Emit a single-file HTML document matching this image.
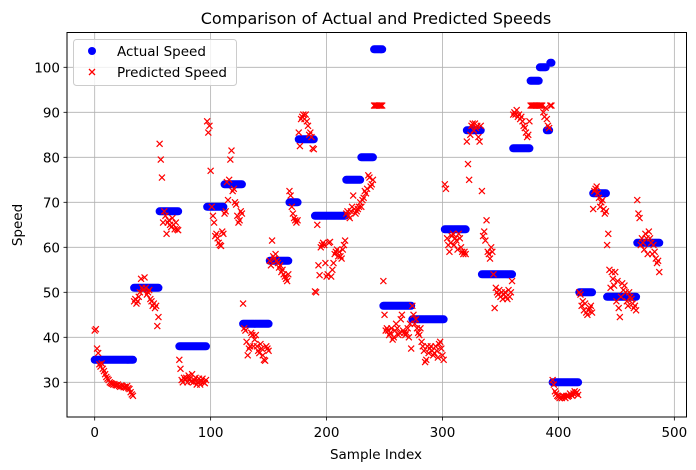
<!DOCTYPE html>
<html><head><meta charset="utf-8"><style>
html,body{margin:0;padding:0;background:#fff;}
svg{display:block;font-family:"DejaVu Sans","Liberation Sans",sans-serif;}
</style></head><body>
<svg id="chart" width="696" height="470" viewBox="0 0 696 470" xmlns="http://www.w3.org/2000/svg">
<rect width="696" height="470" fill="#fff"/>
<text x="376" y="24" text-anchor="middle" font-size="16" fill="#000">Comparison of Actual and Predicted Speeds</text>
<g id="grid"></g>
<g id="marks"></g>
<rect x="67" y="32.5" width="619.5" height="384.5" fill="none" stroke="#000" stroke-width="1"/>
<g id="ticks"></g>
<text x="376" y="459" text-anchor="middle" font-size="13.5">Sample Index</text>
<text x="22" y="225" text-anchor="middle" font-size="13.5" transform="rotate(-90 22 225)">Speed</text>
<g>
<rect x="73.5" y="39.5" width="163" height="46" rx="3" fill="#fff" fill-opacity="0.8" stroke="#ccc"/>
<circle cx="92" cy="51" r="4" fill="#0000ff"/>
<text x="117" y="56" font-size="13.5">Actual Speed</text>
<path d="M89 69 L95 75 M95 69 L89 75" stroke="#ff0000" stroke-width="1.3"/>
<text x="117" y="77" font-size="13.5">Predicted Speed</text>
</g>
</svg>
<script>
const xTicks = [0,100,200,300,400,500];
const yTicks = [30,40,50,60,70,80,90,100];
const segValues = [35,51,68,38,69,74,43,57,70,84,67,75,80,104,47,44,64,86,54,82,97,100,86,101,30,50,72,49,61];
const predChunks = [
[41.5,41.8,37.5,36.5,34,33.5,34.2,33,32.5,31.8,31.2,30.8,30.5,30,29.8,29.7,29.5,29.6,29.4,29.3,29.5,29.2,29,29.3,29.1,28.9,29,28.8,29.2,28.7,28.5,27.8,27.3,27],
[48,48.5,47.5,48,49,50,53,51,50.5,53.3,51,49.5,50,50.5,48.5,48,47,47.5,46.5,47,42.5,44.5],
[83,79.5,75.5,65.5,68,67,63,65.5,66,65,64.5,66.5,65,64,65.5,64,63.8],
[35,33,30.5,30,31,30.5,31,30,31.5,30.8,30.2,31.8,30,30.5,31,29.5,30,30.8,29.5,30.2,30.8,30,29.8,30.5],
[88,85.5,87,77,69,67,65.5,62.5,63,62,61,60.5,60.3,63.5,63],
[67.5,68,74.5,70.5,75,79.5,81.5,72.5,73,70,69.5,67,65.5,66,68,67.5],
[47.5,42,41.5,39,36,37.5,38,41,40.5,38,39.5,40.5,38,37,36.5,38.5,37.5,36,35,34.8,38,37.5,37],
[57,56,61.5,58,57.5,58.5,57,56.5,55.5,56,54.5,55,54,53.5,53,52.5,54],
[72.5,71.5,69,67.5,66.5,66,65.5,66],
[85.5,82.5,88.5,89,89.5,88.5,89.5,88,87,85,85.5,84.5,82,81.8],
[50.2,50,65,56,53.8,60,60.5,61,60.5,56.5,53.5,54,61,61.2,53.5,55,56.5,58.5,59,59.5,58,59,58,57.5,59.5,60.5,61.5],
[67.5,68,67,66.5,68,69,71.5,68.5,67.5,68,68.5,69,70],
[69,70.5,71,72.5,72,73,76,75.5,73.5,74,75],
[91.5,91.5,91.5,91.5,91.5,91.5,91.5,91.5],
[52.5,45,41.5,42,41.5,40.5,41,42,39.5,40,41.5,43,42,40.5,41,44,45,41.5,41,40.5,41,42,40,43,37.5],
[47,45,43,44,42,41,40.5,42,39,38,37,34.5,35,38,36.5,37.5,38,37,36,36.5,38,37,35.5,38.5,39,37.5,36,35],
[74,73,62,60.5,59,61,62.5,63,60.5,62,61.5,59.5,63,62,60,59,58.5,59,58.5],
[83.5,78.5,75,85,87,87.5,86,87.5,86.5,87,84.5,83.5,87],
[72.5,62.5,63.5,61.5,66,59,58.5,57.5,60,59,54,46.5,51,50,49.5,50.5,49,50,48.5,49.5,50,49,48.5,50.5,49,50,52.5],
[89.5,90,89.5,90.5,89,89.5,88.5,89,88,87,86.5,85.5,84.5,85,88],
[91.5,91.5,91.5,91.5,91.5,91.5,91.5,91.5],
[91.5,91.5,91.5,90,89,91],
[88.5,87,86.5],
[91.5,91.5],
[30.5,29.5,28,27.5,27,26.8,26.5,26.8,26.5,27,26.8,26.5,27,26.8,27,27.5,27.2,27,27.5,28,27.5,27.8,27.2],
[50,49.5,47,48,46,47.5,45.5,45,46,46.5,47,45.5],
[68.5,72.5,73,73.5,72,71,69,70,70.5,68.5,67.5,68],
[60.5,63,55,51,54.5,53,51.5,54.5,48,52.5,46.5,44.5,49,52,50.5,51.5,50,48,47,50,49,48.5,47.5,46.5,47,46],
[70.5,67.5,66.5,60.5,62,61,59.5,63,62,58.5,63.5,62,61,58.5,60.5,59,57.5,56.5,57,54.5]
];
const NS = "http://www.w3.org/2000/svg";
function xs(v){ return 94.7 + v * 1.1593; }
function ys(v){ return 382.3 - (v - 30) * 4.5; }
function mk(tag, attrs, parent){ const e = document.createElementNS(NS, tag); for (const k in attrs) e.setAttribute(k, attrs[k]); parent.appendChild(e); return e; }
const grid = document.getElementById('grid'), ticks = document.getElementById('ticks'), marks = document.getElementById('marks');
xTicks.forEach(t => {
  const x = xs(t);
  const g = mk('line', {x1:x, x2:x, y1:32.5, y2:417, stroke:'#b0b0b0', 'stroke-width':0.8}, grid);
  
  
  const tk = mk('line', {x1:x, x2:x, y1:417, y2:420.5, stroke:'#000', 'stroke-width':0.8}, ticks);
  
  
  const lb = mk('text', {x:x, y:437, 'text-anchor':'middle', 'font-size':13.5}, ticks);
  lb.textContent = t;
  
  
});
yTicks.forEach(t => {
  const y = ys(t);
  const g = mk('line', {x1:67, x2:686.5, y1:y, y2:y, stroke:'#b0b0b0', 'stroke-width':0.8}, grid);
  
  
  const tk = mk('line', {x1:63.5, x2:67, y1:y, y2:y, stroke:'#000', 'stroke-width':0.8}, ticks);
  
  
  const lb = mk('text', {x:60, y:y + 5, 'text-anchor':'end', 'font-size':13.5}, ticks);
  lb.textContent = t;
  
  
});
const actualG = mk('g', {}, marks);


const predG = mk('g', {}, marks);


let idx = 0;
predChunks.forEach((chunk, s) => {
  chunk.forEach(p => {
    const x = xs(idx);
    const c = mk('circle', {cx:x, cy:ys(segValues[s]), r:4, fill:'#0000ff'}, actualG);
    
    
    idx++;
  });
});
idx = 0;
predChunks.forEach(chunk => {
  chunk.forEach(p => {
    const x = xs(idx), y = ys(p);
    const m = mk('path', {d:`M${x-3} ${y-3} L${x+3} ${y+3} M${x+3} ${y-3} L${x-3} ${y+3}`, stroke:'#ff0000', 'stroke-width':1.2, fill:'none'}, predG);
    
    
    idx++;
  });
});
</script>
</body></html>
